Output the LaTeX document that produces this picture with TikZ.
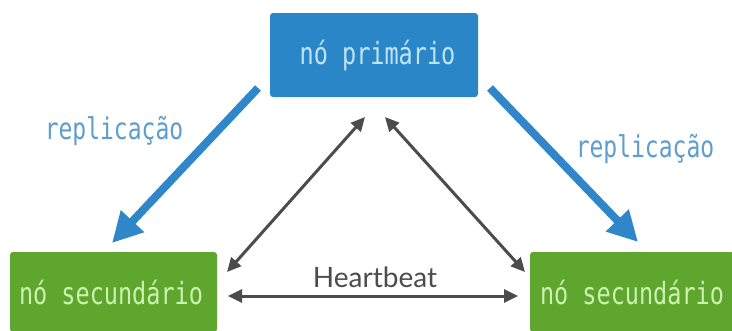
\documentclass[tikz,border=0pt]{standalone}
\usepackage{fontspec}
\usepackage{graphicx}
\setmonofont{DejaVu Sans Mono}
\newfontfamily\hbfont{Lato}
\usetikzlibrary{arrows.meta}
\newcommand{\vtall}[1]{\scalebox{1}[1.3]{#1}}
\definecolor{boxblue}{HTML}{2B86C7}
\definecolor{txtblue}{HTML}{BFE4F6}
\definecolor{boxgreen}{HTML}{5EA62E}
\definecolor{txtgreen}{HTML}{CBF2AE}
\definecolor{arrblue}{HTML}{2F87C9}
\definecolor{lblblue}{HTML}{5E9DD0}
\definecolor{hbgray}{HTML}{4C4C4C}
\tikzset{
  nodebox/.style={rounded corners=3pt, inner sep=0pt, font=\ttfamily\fontsize{23.5}{23.5}\selectfont},
  primbox/.style={nodebox, fill=boxblue, text=txtblue, minimum width=208pt, minimum height=84pt},
  secbox/.style={nodebox, fill=boxgreen, text=txtgreen, minimum height=80pt},
  repl/.style={line width=8pt, arrblue, -{Triangle[length=30pt,width=30pt]}, shorten >=0pt},
  repllabel/.style={text=lblblue, font=\ttfamily\fontsize{23}{23}\selectfont},
  hb/.style={line width=3pt, hbgray, {Triangle[length=14pt,width=13pt]}-{Triangle[length=14pt,width=13pt]}},
}
\begin{document}
\begin{tikzpicture}[x=1pt,y=-1pt]
\clip (0,0) rectangle (732,330);
\fill[white] (0,0) rectangle (732,330);
\node[primbox] (prim) at (374,55) {\hspace*{7pt}\vtall{nó primário}};
\node[secbox, minimum width=207pt] (secL) at (113.5,292) {\hspace*{-5pt}\vtall{nó secundário}};
\node[secbox, minimum width=204pt] (secR) at (632,292) {\vtall{nó secundário}};
% replication arrows
\coordinate (rLs) at (258,88);
\coordinate (rLe) at (112,243);
\coordinate (rRs) at (490,88);
\coordinate (rRe) at (638,242);
\draw[repl] (rLs) -- (rLe);
\draw[repl] (rRs) -- (rRe);
\node[repllabel] (lblL) at (114,131) {\vtall{replicação}};
\node[repllabel] (lblR) at (645,149) {\vtall{replicação}};
% heartbeat arrows
\coordinate (hTL) at (365,117);
\coordinate (hTR) at (385,117);
\coordinate (hBL) at (227,272);
\coordinate (hBR) at (525,272);
\coordinate (hL) at (228,296);
\coordinate (hR) at (518,296);
\draw[hb] (hTL) -- (hBL);
\draw[hb] (hTR) -- (hBR);
\draw[hb] (hL) -- (hR);
\node[text=hbgray, font=\hbfont\fontsize{28}{28}\selectfont, anchor=base] (hbt) at (375,287) {Heartbeat};
\end{tikzpicture}
\end{document}
